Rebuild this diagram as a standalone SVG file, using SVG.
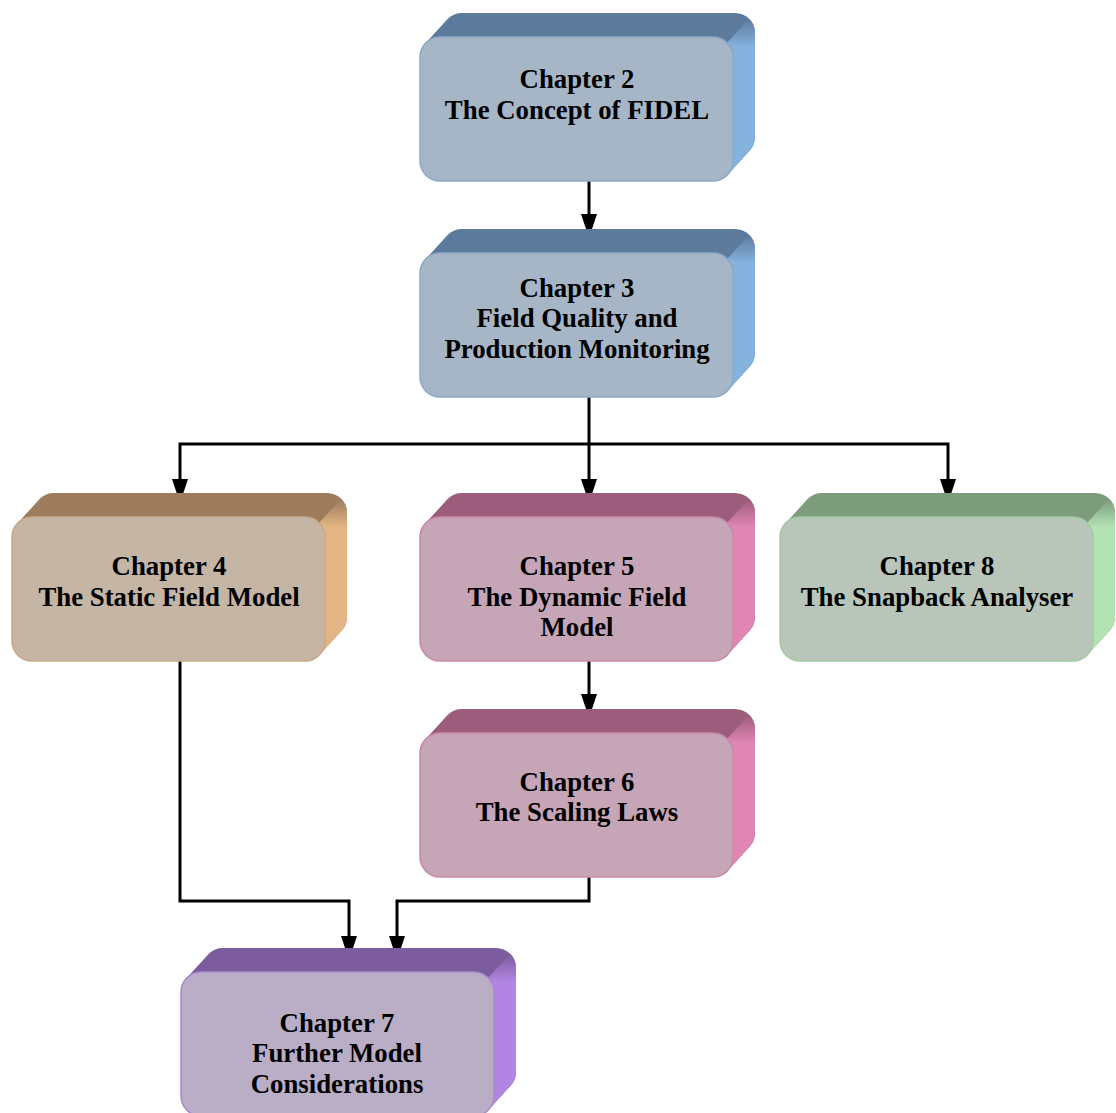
<svg xmlns="http://www.w3.org/2000/svg" width="1116" height="1113" viewBox="0 0 1116 1113">
<style>
  .lbl { font-family: "Liberation Serif", "Times New Roman", serif; font-weight: bold; font-size: 26.8px; fill: #000; text-anchor: middle; }
  .conn { fill: none; stroke: #000; stroke-width: 3; stroke-linejoin: miter; marker-end: url(#arrow); }
  .blue .top { fill: #5c7b9c; } .blue .side { fill: url(#gBlue); } .blue .front { fill: #a7b6c7; stroke: #8fa9c8; }
  .tan .top { fill: #9c7c5d; } .tan .side { fill: url(#gTan); } .tan .front { fill: #c5b5a5; stroke: #c9a988; }
  .pink .top { fill: #9c5c7c; } .pink .side { fill: url(#gPink); } .pink .front { fill: #c5a5b6; stroke: #cc8aaa; }
  .green .top { fill: #7c9c7c; } .green .side { fill: url(#gGreen); } .green .front { fill: #b8c5b8; stroke: #a3cca3; }
  .purple .top { fill: #7c5c9c; } .purple .side { fill: url(#gPurple); } .purple .front { fill: #b9aec5; stroke: #a98ad0; }
  .front { stroke-width: 1.5; }
</style>
<defs>
  <linearGradient id="gBlue" x1="0" y1="0" x2="0" y2="1"><stop offset="0" stop-color="#5c7b9c"/><stop offset="0.18" stop-color="#86b2e0"/><stop offset="1" stop-color="#86b2e0"/></linearGradient>
  <linearGradient id="gTan" x1="0" y1="0" x2="0" y2="1"><stop offset="0" stop-color="#9c7c5d"/><stop offset="0.18" stop-color="#e3b585"/><stop offset="1" stop-color="#e3b585"/></linearGradient>
  <linearGradient id="gPink" x1="0" y1="0" x2="0" y2="1"><stop offset="0" stop-color="#9c5c7c"/><stop offset="0.18" stop-color="#e086b4"/><stop offset="1" stop-color="#e086b4"/></linearGradient>
  <linearGradient id="gGreen" x1="0" y1="0" x2="0" y2="1"><stop offset="0" stop-color="#7c9c7c"/><stop offset="0.18" stop-color="#b3e3b3"/><stop offset="1" stop-color="#b3e3b3"/></linearGradient>
  <linearGradient id="gPurple" x1="0" y1="0" x2="0" y2="1"><stop offset="0" stop-color="#7c5c9c"/><stop offset="0.18" stop-color="#b385e2"/><stop offset="1" stop-color="#b385e2"/></linearGradient>
  <path id="hull" d="M0,124 L0,20 A20,20 0 0 1 5.86,5.86 L27.86,-18.14 A20,20 0 0 1 42,-24 L315,-24 A20,20 0 0 1 335,-4 L335,100 A20,20 0 0 1 329.14,114.14 L307.14,138.14 A20,20 0 0 1 293,144 L20,144 A20,20 0 0 1 0,124 Z"/>
  <path id="sideface" d="M307.14,5.86 L329.14,-18.14 A20,20 0 0 1 335,-4 L335,100 A20,20 0 0 1 329.14,114.14 L307.14,138.14 A20,20 0 0 0 313,124 L313,20 A20,20 0 0 0 307.14,5.86 Z"/>
  <marker id="arrow" markerUnits="userSpaceOnUse" viewBox="0 0 24 16" markerWidth="24" markerHeight="16" refX="20" refY="8" orient="auto-start-reverse">
    <path d="M0,0 L24,8 L0,16 Z" fill="#000"/>
  </marker>
</defs>

<g id="connectors">
  <path class="conn" d="M589,181 V234"/>
  <path class="conn" d="M589,397 V499"/>
  <path class="conn" d="M180,499 V444 H948 V499" style="marker-start:url(#arrow)"/>
  <path class="conn" d="M589,661 V714"/>
  <path class="conn" d="M180,661 V901 H349 V956"/>
  <path class="conn" d="M589,877 V901 H397 V956"/>
</g>

<g id="ch2" class="blue">
  <g transform="translate(420,37)">
    <use href="#hull" class="top"/><use href="#sideface" class="side"/>
    <rect class="front" x="0" y="0" width="313" height="144" rx="20"/>
  </g>
  <text class="lbl" x="577" y="88">Chapter 2</text>
  <text class="lbl" x="577" y="119">The Concept of FIDEL</text>
</g>

<g id="ch3" class="blue">
  <g transform="translate(420,253)">
    <use href="#hull" class="top"/><use href="#sideface" class="side"/>
    <rect class="front" x="0" y="0" width="313" height="144" rx="20"/>
  </g>
  <text class="lbl" x="577" y="297">Chapter 3</text>
  <text class="lbl" x="577" y="327">Field Quality and</text>
  <text class="lbl" x="577" y="358">Production Monitoring</text>
</g>

<g id="ch4" class="tan">
  <g transform="translate(12,517)">
    <use href="#hull" class="top"/><use href="#sideface" class="side"/>
    <rect class="front" x="0" y="0" width="313" height="144" rx="20"/>
  </g>
  <text class="lbl" x="169" y="575">Chapter 4</text>
  <text class="lbl" x="169" y="606">The Static Field Model</text>
</g>

<g id="ch5" class="pink">
  <g transform="translate(420,517)">
    <use href="#hull" class="top"/><use href="#sideface" class="side"/>
    <rect class="front" x="0" y="0" width="313" height="144" rx="20"/>
  </g>
  <text class="lbl" x="577" y="575">Chapter 5</text>
  <text class="lbl" x="577" y="606">The Dynamic Field</text>
  <text class="lbl" x="577" y="636">Model</text>
</g>

<g id="ch8" class="green">
  <g transform="translate(780,517)">
    <use href="#hull" class="top"/><use href="#sideface" class="side"/>
    <rect class="front" x="0" y="0" width="313" height="144" rx="20"/>
  </g>
  <text class="lbl" x="937" y="575">Chapter 8</text>
  <text class="lbl" x="937" y="606">The Snapback Analyser</text>
</g>

<g id="ch6" class="pink">
  <g transform="translate(420,733)">
    <use href="#hull" class="top"/><use href="#sideface" class="side"/>
    <rect class="front" x="0" y="0" width="313" height="144" rx="20"/>
  </g>
  <text class="lbl" x="577" y="791">Chapter 6</text>
  <text class="lbl" x="577" y="821">The Scaling Laws</text>
</g>

<g id="ch7" class="purple">
  <g transform="translate(181,972)">
    <use href="#hull" class="top"/><use href="#sideface" class="side"/>
    <rect class="front" x="0" y="0" width="313" height="144" rx="20"/>
  </g>
  <text class="lbl" x="337" y="1032">Chapter 7</text>
  <text class="lbl" x="337" y="1062">Further Model</text>
  <text class="lbl" x="337" y="1093">Considerations</text>
</g>
</svg>
